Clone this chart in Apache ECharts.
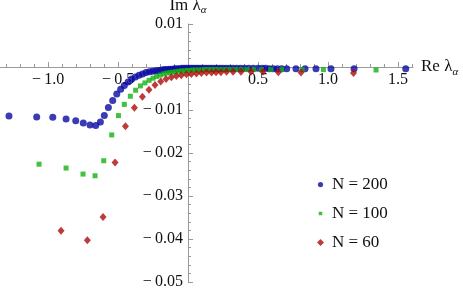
<!DOCTYPE html>
<html>
<head>
<meta charset="utf-8">
<script src="https://cdn.jsdelivr.net/npm/echarts@6/dist/echarts.min.js"></script>
<style>html,body{margin:0;padding:0;background:#fff}#c{width:463px;height:292px}</style>
</head>
<body>
<div id="c"></div>
<script>
// N = 200 (blue circles)
var n200 = [[-1.279,-0.0114],[-1.081,-0.0116],[-0.966,-0.0117],[-0.871,-0.0121],[-0.802,-0.0125],[-0.748,-0.0130],[-0.700,-0.0135],[-0.659,-0.0136],[-0.626,-0.0128],[-0.598,-0.0113],[-0.569,-0.0094],[-0.538,-0.0078],[-0.509,-0.0063],[-0.481,-0.0052],[-0.455,-0.0043],[-0.428,-0.0035],[-0.402,-0.0028],[-0.376,-0.0023],[-0.350,-0.0019],[-0.325,-0.0016],[-0.300,-0.0013],[-0.276,-0.0011],[-0.253,-0.0010],[-0.231,-0.0009],[-0.210,-0.0008],[-0.190,-0.0007],[-0.170,-0.0006],[-0.151,-0.0006],[-0.132,-0.0005],[-0.114,-0.0005],[-0.096,-0.0004],[-0.078,-0.0004],[-0.061,-0.0004],[-0.044,-0.0003],[-0.027,-0.0003],[-0.010,-0.0003],[0.007,-0.0003],[0.024,-0.0003],[0.041,-0.0003],[0.058,-0.0003],[0.075,-0.0003],[0.093,-0.0003],[0.111,-0.0003],[0.129,-0.0003],[0.148,-0.0003],[0.167,-0.0003],[0.187,-0.0003],[0.207,-0.0003],[0.228,-0.0003],[0.250,-0.0003],[0.273,-0.0003],[0.297,-0.0003],[0.322,-0.0003],[0.348,-0.0003],[0.375,-0.0003],[0.404,-0.0003],[0.434,-0.0003],[0.466,-0.0003],[0.500,-0.0003],[0.530,-0.0003],[0.555,-0.0003],[0.581,-0.0004],[0.609,-0.0004],[0.638,-0.0004],[0.669,-0.0004],[0.705,-0.0004],[0.771,-0.0004],[0.836,-0.0004],[0.914,-0.0004],[1.021,-0.0004],[1.186,-0.0004],[1.555,-0.0004]];
// N = 100 (green squares)
var n100 = [[-1.064,-0.0226],[-0.871,-0.0235],[-0.750,-0.0249],[-0.664,-0.0253],[-0.602,-0.0218],[-0.545,-0.0158],[-0.497,-0.0113],[-0.455,-0.0087],[-0.412,-0.0068],[-0.374,-0.0054],[-0.340,-0.0044],[-0.308,-0.0037],[-0.278,-0.0031],[-0.250,-0.0026],[-0.224,-0.0022],[-0.199,-0.0019],[-0.175,-0.0016],[-0.152,-0.0014],[-0.130,-0.0013],[-0.109,-0.0012],[-0.088,-0.0011],[-0.067,-0.0010],[-0.047,-0.0009],[-0.027,-0.0009],[-0.007,-0.0008],[0.013,-0.0008],[0.033,-0.0007],[0.054,-0.0007],[0.075,-0.0007],[0.097,-0.0007],[0.119,-0.0006],[0.142,-0.0006],[0.166,-0.0006],[0.191,-0.0006],[0.217,-0.0006],[0.245,-0.0006],[0.275,-0.0006],[0.307,-0.0006],[0.342,-0.0006],[0.380,-0.0006],[0.422,-0.0006],[0.470,-0.0006],[0.525,-0.0006],[0.590,-0.0006],[0.670,-0.0006],[0.815,-0.0006],[0.967,-0.0006],[1.343,-0.0007]];
// N = 60 (red diamonds)
var n60 = [[-0.907,-0.0381],[-0.719,-0.0403],[-0.607,-0.0349],[-0.521,-0.0222],[-0.447,-0.0138],[-0.383,-0.0095],[-0.326,-0.0069],[-0.279,-0.0053],[-0.236,-0.0042],[-0.195,-0.0034],[-0.157,-0.0028],[-0.119,-0.0024],[-0.083,-0.0021],[-0.048,-0.0019],[-0.012,-0.0017],[0.024,-0.0016],[0.060,-0.0015],[0.096,-0.0014],[0.132,-0.0013],[0.168,-0.0013],[0.200,-0.0012],[0.235,-0.0012],[0.275,-0.0011],[0.322,-0.0011],[0.378,-0.0011],[0.450,-0.0011],[0.535,-0.0011],[0.645,-0.0012],[0.807,-0.0013],[1.182,-0.0014]];

var seriesNames = ['N = 200', 'N = 100', 'N = 60'];
var xMajorTicks = [-1.0, -0.5, 0.5, 1.0, 1.5];
var xMinorTicks = [-1.3,-1.2,-1.1,-0.9,-0.8,-0.7,-0.6,-0.4,-0.3,-0.2,-0.1,0.1,0.2,0.3,0.4,0.6,0.7,0.8,0.9,1.1,1.2,1.3,1.4,1.6];
var xMin = -1.343, xMax = 1.607, yMin = -0.05, yMax = 0.01;

var AX = '#9a9a9a';
var FONT = 'Liberation Serif';
var G = { left: 0, right: 50, top: 24, bottom: 10 };
var W = 463, H = 292;
var gw = W - G.left - G.right, gh = H - G.top - G.bottom;
// shift axes so they cross at the origin
var xOffset = -gh * (0 - yMin) / (yMax - yMin);
var yOffset = -gw * (0 - xMin) / (xMax - xMin);

function fmt(v, d) {
  if (Math.abs(v) < 1e-9) return '';
  return (v < 0 ? '\u2212\u2009' : '') + Math.abs(v).toFixed(d);
}
var richName = {
  n: { fontSize: 17, fontFamily: FONT, color: '#111', lineHeight: 22 },
  s: { fontSize: 11, fontFamily: FONT, fontStyle: 'italic', color: '#111', verticalAlign: 'bottom' }
};
var chart = echarts.init(document.getElementById('c'));
chart.setOption({
  animation: false,
  backgroundColor: '#fff',
  textStyle: { fontFamily: FONT },
  grid: { left: G.left, right: G.right, top: G.top, bottom: G.bottom, outerBoundsMode: 'none' },
  legend: {
    orient: 'vertical', left: 312, top: 171, itemGap: 12,
    itemWidth: 7, itemHeight: 7,
    textStyle: { fontFamily: FONT, fontSize: 17, color: '#111', padding: [0,0,0,3] },
    data: [
      { name: seriesNames[0], icon: 'path://M0,0M8,8M1,4A3,3,0,1,1,7,4A3,3,0,1,1,1,4Z' },
      { name: seriesNames[1], icon: 'path://M0,0M8,8M2,2L6,2L6,6L2,6Z' },
      { name: seriesNames[2], icon: 'diamond' }
    ]
  },
  xAxis: [{
    type: 'value', min: xMin, max: xMax, position: 'bottom', offset: xOffset,
    axisLine: { onZero: false, lineStyle: { color: AX, width: 1 } },
    axisTick: { show: true, inside: true, length: 5, customValues: xMajorTicks, lineStyle: { color: AX } },
    axisLabel: { customValues: xMajorTicks, margin: 5, fontSize: 16, color: '#111', fontFamily: FONT,
      formatter: function (v) { return fmt(v, 1); } },
    splitLine: { show: false },
    name: '{n|Re \u03bb}{s|\u03b1}', nameLocation: 'end', nameGap: 8,
    nameTextStyle: { rich: richName }
  }, {
    type: 'value', min: xMin, max: xMax, gridIndex: 0, position: 'bottom', offset: xOffset,
    axisLine: { show: false, onZero: false },
    axisTick: { show: true, inside: true, length: 3, customValues: xMinorTicks, lineStyle: { color: AX } },
    axisLabel: { show: false },
    splitLine: { show: false }
  }],
  yAxis: {
    type: 'value', min: yMin, max: yMax, interval: 0.01, position: 'left', offset: yOffset,
    axisLine: { onZero: false, lineStyle: { color: AX, width: 1 } },
    axisTick: { show: true, inside: true, length: 5, lineStyle: { color: AX } },
    minorTick: { show: true, splitNumber: 5, length: 3, lineStyle: { color: AX } },
    axisLabel: { margin: 5, fontSize: 16, color: '#111', fontFamily: FONT,
      formatter: function (v) { return fmt(v, 2); } },
    splitLine: { show: false },
    name: '{n|Im \u03bb}{s|\u03b1}', nameLocation: 'end', nameGap: 2,
    nameTextStyle: { align: 'center', rich: richName }
  },
  series: [
    { name: seriesNames[0], type: 'scatter', data: n200, symbol: 'circle', symbolSize: 7,
      itemStyle: { color: '#0a0aa4' } },
    { name: seriesNames[1], type: 'scatter', data: n100, symbol: 'rect', symbolSize: 5,
      itemStyle: { color: '#12b012' } },
    { name: seriesNames[2], type: 'scatter', data: n60, symbol: 'diamond', symbolSize: [7, 8],
      itemStyle: { color: '#ac0a0a' } }
  ]
});
</script>
</body>
</html>
